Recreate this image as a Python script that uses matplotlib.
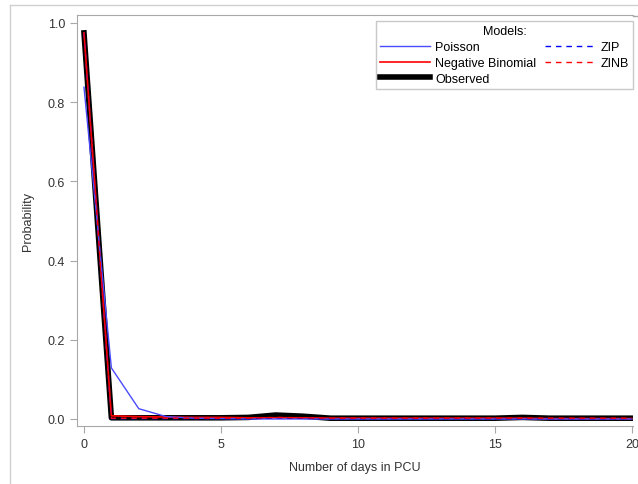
import numpy as np
import matplotlib
matplotlib.use("Agg")
import matplotlib.pyplot as plt
from matplotlib.lines import Line2D

plt.rcParams['font.family'] = ['Liberation Sans', 'DejaVu Sans']

days = list(range(0, 21))
observed = [0.975, 0.003, 0.003, 0.003, 0.003, 0.003, 0.004, 0.010, 0.007, 0.002,
            0.002, 0.002, 0.002, 0.002, 0.002, 0.002, 0.004, 0.002, 0.002, 0.002, 0.002]
poisson = [0.838, 0.129, 0.026, 0.006, 0.002, 0.001, 0.0, 0.0, 0.0, 0.0,
           0.0, 0.0, 0.0, 0.0, 0.0, 0.0, 0.0, 0.0, 0.0, 0.0, 0.0]
neg_binomial = [0.975, 0.008, 0.006, 0.005, 0.004, 0.004, 0.003, 0.003, 0.003, 0.002,
                0.002, 0.002, 0.002, 0.002, 0.002, 0.002, 0.002, 0.001, 0.001, 0.001, 0.001]
zip_model = [0.975, 0.001, 0.001, 0.001, 0.001, 0.001, 0.001, 0.003, 0.002, 0.001,
             0.001, 0.001, 0.001, 0.001, 0.001, 0.001, 0.001, 0.001, 0.001, 0.001, 0.001]
zinb = [0.975, 0.002, 0.002, 0.002, 0.002, 0.002, 0.002, 0.004, 0.003, 0.002,
        0.002, 0.002, 0.002, 0.002, 0.002, 0.002, 0.002, 0.002, 0.002, 0.002, 0.002]

W, H = 638, 485
fig = plt.figure(figsize=(W / 100, H / 100), dpi=100)

# frame lines around the plot area (part of the original graph box)
fig.add_artist(Line2D([10 / W, 1], [1 - 6 / H, 1 - 6 / H], color='#d0d0d0', lw=1))
fig.add_artist(Line2D([10 / W, 10 / W], [0, 1 - 6 / H], color='#d0d0d0', lw=1))
fig.add_artist(Line2D([633 / W, 1], [1 - 16.5 / H, 1 - 16.5 / H], color='#a8a8a8', lw=1))

ax = fig.add_axes([77 / W, 1 - 427 / H, (633 - 77) / W, (427 - 16) / H])

ax.plot(days, observed, color='black', lw=4, label='Observed', zorder=2)
ax.plot(days, neg_binomial, color='#ff0000', lw=1.2, label='Negative Binomial', zorder=3)
ax.plot(days, poisson, color='#4a4aff', lw=1.0, label='Poisson', zorder=4)
ax.plot(days, zip_model, color='#0000ff', lw=1.0, ls=(0, (4, 3.5)), label='ZIP', zorder=5)
ax.plot(days, zinb, color='#ff0000', lw=1.0, ls=(0, (4, 3.5)), label='ZINB', zorder=6)

ax.set_xlim(-0.255, 20.04)
ax.set_ylim(-0.0177, 1.0202)
ax.set_xticks([0, 5, 10, 15, 20])
ax.set_yticks([0.0, 0.2, 0.4, 0.6, 0.8, 1.0])
ax.set_yticklabels(['0.0', '0.2', '0.4', '0.6', '0.8', '1.0'])

for side in ['left', 'bottom', 'top']:
    ax.spines[side].set_color('#a8a8a8')
ax.spines['right'].set_visible(False)
ax.tick_params(colors='#a8a8a8', labelcolor='#333333', labelsize=9, length=5)

ax.set_xlabel('Number of days in PCU', fontsize=9, color='#333333', labelpad=8)
ax.set_ylabel('Probability', fontsize=9, color='#333333', labelpad=10)

handles, labels = ax.get_legend_handles_labels()
order = ['Poisson', 'Negative Binomial', 'Observed', 'ZIP', 'ZINB']
hl = dict(zip(labels, handles))
leg = ax.legend([hl[k] for k in order], order, ncol=2, title='Models:',
                loc='upper right', bbox_to_anchor=(1.0, 1 - 6 / 411), fontsize=9,
                title_fontsize=9, frameon=True, fancybox=False, framealpha=1,
                edgecolor='#c8c8c8', handlelength=4.0, handletextpad=0.4,
                columnspacing=0.7, labelspacing=0.3, borderpad=0.35, borderaxespad=0.0)
leg.get_frame().set_linewidth(1.0)

fig.savefig('out.png', dpi=100)
